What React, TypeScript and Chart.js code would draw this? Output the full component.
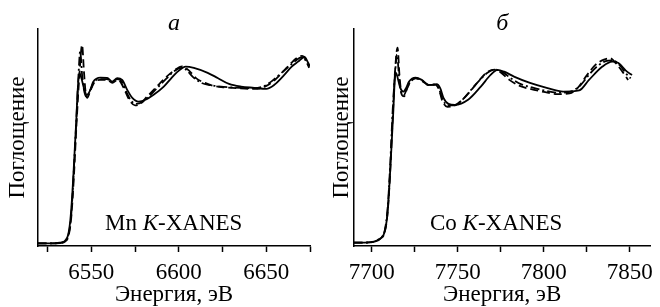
import React, { useEffect, useRef } from "react";
import { Chart, registerables } from "chart.js";

Chart.register(...registerables);

const FONT = '"Liberation Serif", "Times New Roman", serif';

// ---------- Panel a: Mn K-XANES ----------
const mnTickValues = [6525, 6550, 6575, 6600, 6625, 6650, 6675];
const mnTickLabels = [6550, 6600, 6650];

const mnSolidE = [6519.5, 6526.4, 6532.2, 6535.1, 6536.8, 6537.9, 6539.1, 6540.2, 6541.4, 6542.2, 6543.1, 6544.3, 6545.7, 6547.5, 6549.4, 6551.1, 6555.2, 6559.0, 6561.9, 6564.8, 6567.6, 6570.5, 6573.4, 6577.0, 6581.0, 6585.6, 6591.4, 6595.4, 6599.3, 6604.0, 6608.6, 6616.5, 6622.2, 6628.7, 6635.6, 6643.1, 6650.0, 6654.6, 6660.3, 6664.4, 6668.2, 6671.8, 6674.0, 6675.0];
const mnSolid = [0.007, 0.007, 0.01, 0.027, 0.067, 0.153, 0.333, 0.567, 0.833, 1.033, 1.147, 1.113, 1.047, 1.0, 1.033, 1.087, 1.115, 1.113, 1.089, 1.111, 1.1, 1.033, 0.98, 0.955, 0.967, 1.0, 1.055, 1.107, 1.155, 1.189, 1.18, 1.147, 1.113, 1.073, 1.055, 1.047, 1.04, 1.067, 1.133, 1.187, 1.222, 1.253, 1.213, 1.19];

const mnDashE = [6519.5, 6526, 6532, 6535, 6537, 6538.5, 6540, 6541.5, 6543, 6544.7, 6545.8, 6546.7, 6547.6, 6549.5, 6551.5, 6555, 6559, 6562, 6565, 6567, 6569.5, 6572, 6575, 6578, 6582, 6587, 6592, 6597, 6602, 6606, 6610, 6615, 6620, 6626, 6633, 6640, 6645, 6650, 6655, 6660, 6664, 6668, 6670.5, 6672.5, 6674.5];
const mnDash = [0.007, 0.007, 0.01, 0.02, 0.06, 0.18, 0.45, 0.8, 1.1, 1.333, 1.15, 1.02, 0.98, 1.03, 1.08, 1.1, 1.1, 1.08, 1.1, 1.08, 1.02, 0.96, 0.93, 0.94, 0.99, 1.05, 1.11, 1.16, 1.19, 1.16, 1.11, 1.08, 1.06, 1.05, 1.045, 1.04, 1.04, 1.06, 1.1, 1.16, 1.21, 1.25, 1.26, 1.24, 1.19];

const mnDashDotE = [6519.5, 6526, 6532, 6535, 6537, 6538.5, 6540, 6541.5, 6542.6, 6543.6, 6544.8, 6546, 6547.3, 6549.3, 6551.5, 6555, 6559, 6562, 6565, 6567.3, 6570, 6572.5, 6575.5, 6579, 6583, 6588, 6593, 6597.5, 6601.5, 6604, 6608, 6613, 6618, 6624, 6630, 6637, 6643, 6648, 6653, 6658, 6663, 6667, 6670, 6672.5, 6674.5];
const mnDashDot = [0.007, 0.007, 0.012, 0.025, 0.07, 0.2, 0.5, 0.85, 1.12, 1.29, 1.12, 1.02, 0.985, 1.03, 1.085, 1.105, 1.105, 1.085, 1.105, 1.09, 1.02, 0.965, 0.94, 0.95, 0.99, 1.05, 1.11, 1.16, 1.18, 1.17, 1.12, 1.08, 1.065, 1.055, 1.05, 1.045, 1.045, 1.055, 1.09, 1.14, 1.19, 1.23, 1.25, 1.23, 1.18];

// ---------- Panel б: Co K-XANES ----------
const coTickValues = [7700, 7725, 7750, 7775, 7800, 7825, 7850];
const coTickLabels = [7700, 7750, 7800, 7850];

const coSolidE = [7689.7, 7696, 7701.7, 7705.1, 7707.4, 7709.1, 7710.3, 7711.4, 7712.6, 7713.4, 7714.1, 7715.1, 7716.6, 7718.5, 7720, 7721.7, 7725.5, 7729.1, 7733.1, 7736, 7737.7, 7739.8, 7741.7, 7744.6, 7748.4, 7756, 7763.4, 7769.1, 7773.1, 7777, 7782.7, 7792, 7801.7, 7811.3, 7820.6, 7826.3, 7834.1, 7839.8, 7843.4, 7848.4, 7851.3];
const coSolid = [0.013, 0.013, 0.02, 0.04, 0.08, 0.2, 0.4, 0.633, 0.9, 1.1, 1.147, 1.113, 1.047, 1.022, 1.047, 1.089, 1.115, 1.1, 1.067, 1.067, 1.071, 1.045, 0.98, 0.94, 0.933, 0.967, 1.055, 1.133, 1.167, 1.155, 1.122, 1.08, 1.047, 1.022, 1.03, 1.1, 1.189, 1.222, 1.213, 1.155, 1.133];

const coDashE = [7689.7, 7696, 7701.7, 7705, 7707.5, 7709.3, 7710.8, 7712.2, 7713.5, 7715, 7716.2, 7717.5, 7718.8, 7720.5, 7722.5, 7725.5, 7729, 7733, 7736.5, 7739, 7741, 7744, 7747.5, 7752, 7757, 7762, 7767, 7771.5, 7775, 7780, 7786, 7792, 7800, 7808, 7815, 7820, 7825, 7830, 7835, 7838.5, 7842, 7846, 7849];
const coDash = [0.013, 0.013, 0.02, 0.04, 0.08, 0.22, 0.5, 0.85, 1.15, 1.315, 1.12, 1.0, 0.99, 1.04, 1.085, 1.11, 1.095, 1.065, 1.07, 1.04, 0.96, 0.92, 0.925, 0.96, 1.02, 1.09, 1.15, 1.168, 1.15, 1.1, 1.06, 1.04, 1.02, 1.005, 1.01, 1.05, 1.13, 1.2, 1.235, 1.245, 1.21, 1.15, 1.1];

const coDashDotE = [7689.7, 7696, 7701.7, 7705, 7707.5, 7709.3, 7710.8, 7712.2, 7713.6, 7714.7, 7716, 7717.3, 7718.7, 7720.5, 7722.5, 7725.5, 7729, 7733, 7736.3, 7739, 7741.2, 7744.2, 7748, 7752.5, 7757.5, 7762.5, 7767.5, 7772, 7776, 7781, 7787, 7793, 7800, 7808, 7815, 7821, 7826, 7831, 7836, 7840, 7844, 7848, 7850.5];
const coDashDot = [0.013, 0.013, 0.02, 0.045, 0.09, 0.25, 0.55, 0.9, 1.15, 1.27, 1.1, 1.01, 1.0, 1.045, 1.09, 1.112, 1.098, 1.066, 1.068, 1.042, 0.97, 0.93, 0.93, 0.965, 1.03, 1.095, 1.15, 1.168, 1.152, 1.11, 1.07, 1.05, 1.03, 1.015, 1.02, 1.06, 1.13, 1.19, 1.225, 1.23, 1.2, 1.14, 1.11];

const yTitle = "Поглощение";
const xTitle = "Энергия, эВ";

const zip = (xs: number[], ys: number[]) => xs.map((x, i) => ({ x, y: ys[i] }));

const panelText = {
  id: "panelText",
  afterDraw(chart: any, _args: any, opts: any) {
    const ctx = chart.ctx;
    const ca = chart.chartArea;
    ctx.save();
    ctx.fillStyle = "#000";
    ctx.textBaseline = "alphabetic";
    ctx.textAlign = "center";
    ctx.font = `italic 24px ${FONT}`;
    ctx.fillText(opts.title, (ca.left + ca.right) / 2, 30);
    ctx.textAlign = "left";
    let x = opts.labelX;
    const y = opts.labelY;
    ctx.font = `23px ${FONT}`;
    const p1 = opts.element + " ";
    ctx.fillText(p1, x, y);
    x += ctx.measureText(p1).width;
    ctx.font = `italic 23px ${FONT}`;
    ctx.fillText("K", x, y);
    x += ctx.measureText("K").width;
    ctx.font = `23px ${FONT}`;
    ctx.fillText("-XANES", x, y);
    ctx.restore();
  },
};

type PanelProps = {
  left: number;
  width: number;
  yAxisWidth: number;
  padRight: number;
  yTitlePad: number;
  xMin: number;
  xMax: number;
  tickValues: number[];
  tickLabels: number[];
  series: { x: number[]; y: number[]; dash: number[] }[];
  title: string;
  element: string;
  labelX: number;
};

function Panel(p: PanelProps) {
  const ref = useRef<HTMLCanvasElement | null>(null);
  useEffect(() => {
    if (!ref.current) return;
    const chart = new Chart(ref.current, {
      type: "line",
      data: {
        datasets: p.series.map((s) => ({
          data: zip(s.x, s.y),
          borderColor: "#000",
          borderWidth: 1.8,
          borderDash: s.dash,
          pointRadius: 0,
          fill: false,
          cubicInterpolationMode: "monotone" as const,
        })),
      },
      options: {
        animation: false,
        responsive: false,
        layout: { padding: { top: 29, right: p.padRight, left: 0, bottom: 0 } },
        plugins: {
          legend: { display: false },
          tooltip: { enabled: false },
          panelText: { title: p.title, element: p.element, labelX: p.labelX, labelY: 230 },
        } as any,
        scales: {
          x: {
            type: "linear",
            min: p.xMin,
            max: p.xMax,
            afterBuildTicks: (scale: any) => {
              scale.ticks = p.tickValues.map((v) => ({ value: v }));
            },
            afterFit: (scale: any) => {
              scale.height = 61;
            },
            ticks: {
              color: "#000",
              font: { family: FONT, size: 23 },
              padding: 7,
              maxRotation: 0,
              autoSkip: false,
              callback: (v: any) => (p.tickLabels.includes(Number(v)) ? String(v) : ""),
            },
            grid: {
              drawOnChartArea: false,
              drawTicks: true,
              tickLength: 6,
              color: "#000",
              tickWidth: 1.5,
            },
            border: { display: true, color: "#000", width: 1.5 },
            title: {
              display: true,
              text: xTitle,
              color: "#000",
              font: { family: FONT, size: 23 },
              padding: { top: 0, bottom: -2 },
            },
          },
          y: {
            type: "linear",
            min: -0.01,
            max: 1.44,
            afterFit: (scale: any) => {
              scale.width = p.yAxisWidth;
            },
            ticks: { display: false },
            grid: { display: false, drawTicks: false },
            border: { display: true, color: "#000", width: 1.5 },
            title: {
              display: true,
              text: yTitle,
              color: "#000",
              font: { family: FONT, size: 23 },
              padding: { top: p.yTitlePad, bottom: 0 },
            },
          },
        },
      },
      plugins: [panelText],
    });
    return () => chart.destroy();
  }, []);
  return (
    <div style={{ position: "absolute", left: p.left, top: 0, width: p.width, height: 307 }}>
      <canvas ref={ref} width={p.width} height={307} style={{ display: "block" }} />
    </div>
  );
}

export default function App() {
  return (
    <div style={{ position: "absolute", left: 0, top: 0, width: 660, height: 307, background: "#fff" }}>
      <Panel
        left={0}
        width={330}
        yAxisWidth={38}
        padRight={20}
        yTitlePad={4}
        xMin={6519.5}
        xMax={6675}
        tickValues={mnTickValues}
        tickLabels={mnTickLabels}
        series={[
          { x: mnSolidE, y: mnSolid, dash: [] },
          { x: mnDashE, y: mnDash, dash: [8, 4] },
          { x: mnDashDotE, y: mnDashDot, dash: [9, 3, 2, 3] },
        ]}
        title="а"
        element="Mn"
        labelX={105}
      />
      <Panel
        left={326}
        width={334}
        yAxisWidth={28}
        padRight={3}
        yTitlePad={2}
        xMin={7689.7}
        xMax={7862}
        tickValues={coTickValues}
        tickLabels={coTickLabels}
        series={[
          { x: coSolidE, y: coSolid, dash: [] },
          { x: coDashE, y: coDash, dash: [8, 4] },
          { x: coDashDotE, y: coDashDot, dash: [9, 3, 2, 3] },
        ]}
        title="б"
        element="Co"
        labelX={104}
      />
    </div>
  );
}
